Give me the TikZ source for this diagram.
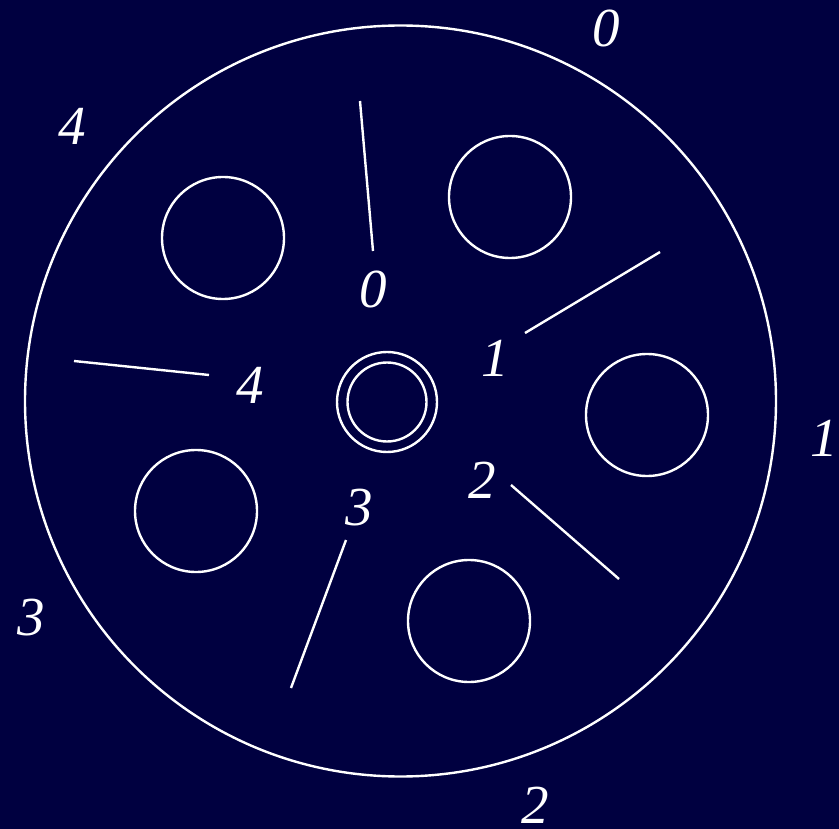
\documentclass[tikz,border=0pt]{standalone}
\usepackage{fontspec}
\setmainfont{Liberation Serif}
\definecolor{bgnavy}{RGB}{0,0,64}
\begin{document}
\begin{tikzpicture}[x=1pt,y=-1pt,
  wline/.style={draw=white,line width=2.4pt},
  digit/.style={text=white,inner sep=0pt,font=\fontsize{55}{60}\selectfont\itshape}]
\fill[bgnavy] (0,0) rectangle (839,829);
\useasboundingbox (0,0) rectangle (839,829);
% outer disc
\draw[wline] (400.5,401) circle (375.5);
% hub
\draw[wline] (387,402) circle (50);
\draw[wline] (387,402) circle (39.5);
% holes
\draw[wline] (510,197) circle (61);
\draw[wline] (647,415) circle (61);
\draw[wline] (469,621) circle (61);
\draw[wline] (196,511) circle (61);
\draw[wline] (223,238) circle (61);
% tick lines
\coordinate (a0) at (360,101); \coordinate (b0) at (373,251);
\coordinate (a1) at (660,252); \coordinate (b1) at (525,333);
\coordinate (a2) at (619,579); \coordinate (b2) at (511,485);
\coordinate (a3) at (291,688); \coordinate (b3) at (346,540);
\coordinate (a4) at (74,361);  \coordinate (b4) at (209,375);
\draw[wline] (a0) -- (b0);
\draw[wline] (a1) -- (b1);
\draw[wline] (a2) -- (b2);
\draw[wline] (a3) -- (b3);
\draw[wline] (a4) -- (b4);
% inner labels
\node[digit] (i0) at (373,289) {0};
\node[digit] (i1) at (495,358) {1};
\node[digit] (i2) at (482,480) {2};
\node[digit] (i3) at (359,508) {3};
\node[digit] (i4) at (250,385) {4};
% outer labels
\node[digit] (o0) at (606,28) {0};
\node[digit] (o1) at (824,438) {1};
\node[digit] (o2) at (535,805) {2};
\node[digit] (o3) at (31,618) {3};
\node[digit] (o4) at (72,126) {4};
\end{tikzpicture}
\end{document}
